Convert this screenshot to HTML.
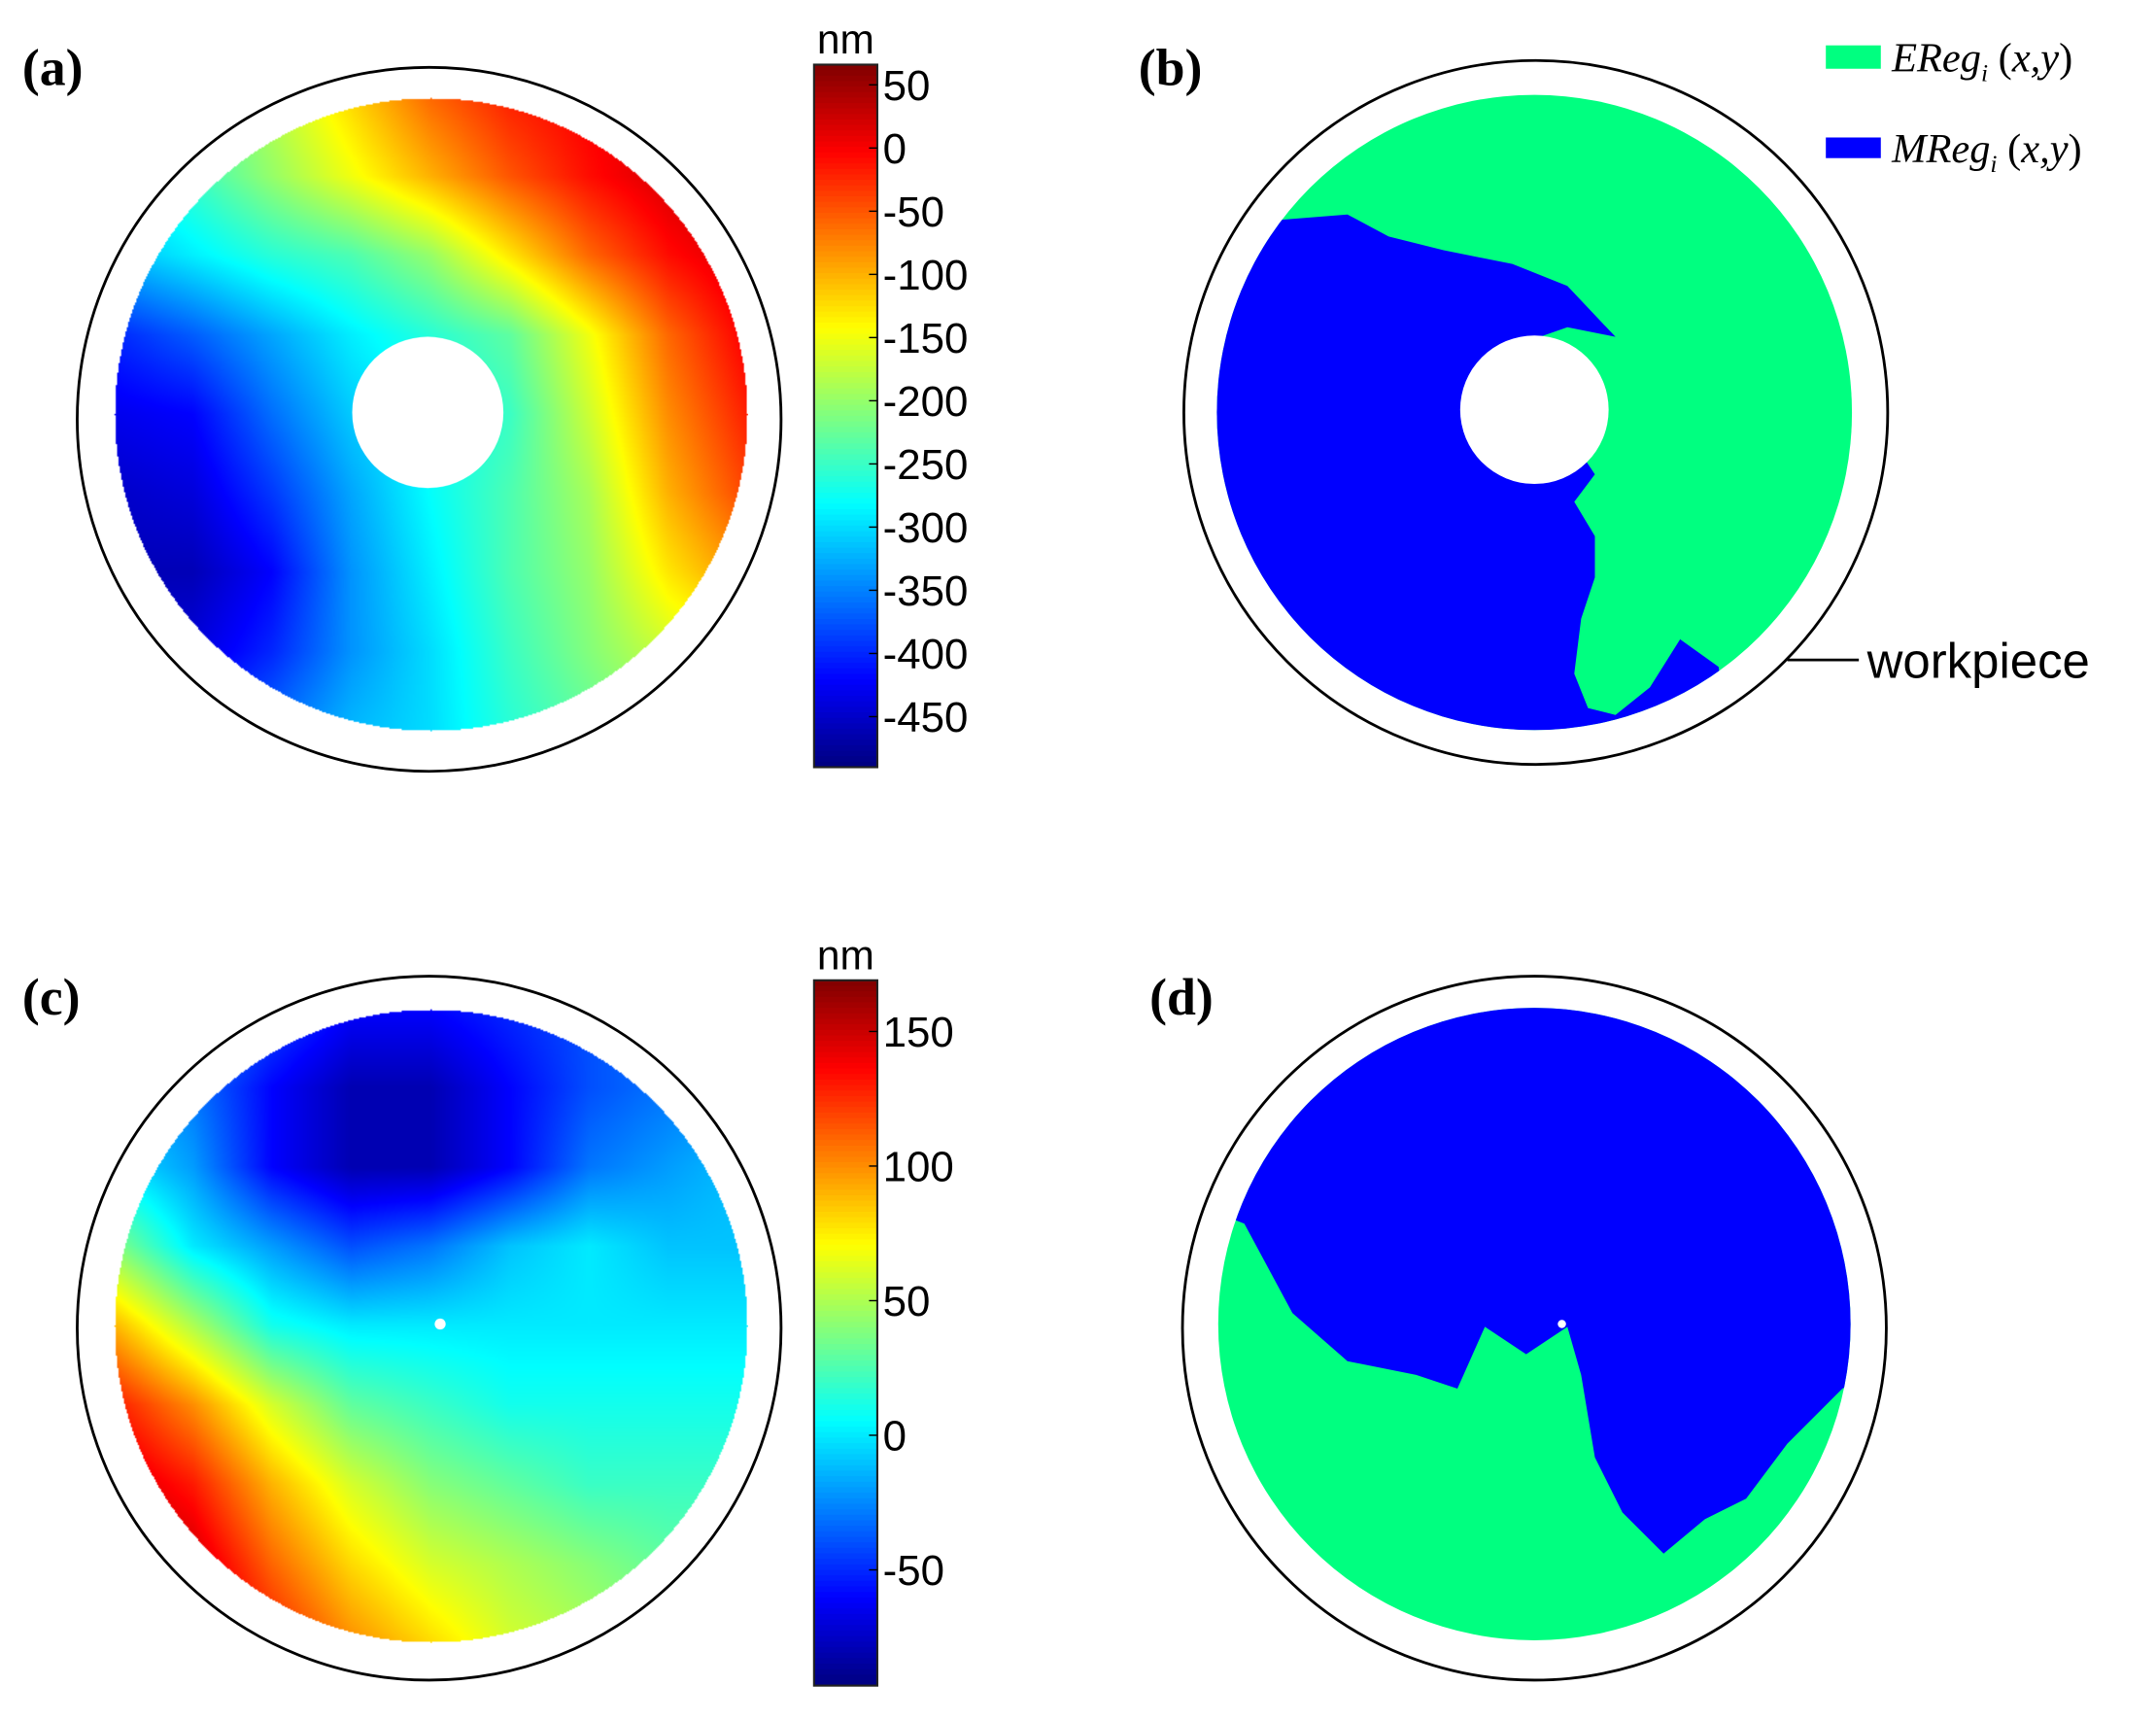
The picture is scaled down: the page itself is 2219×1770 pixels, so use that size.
<!DOCTYPE html>
<html><head><meta charset="utf-8"><style>
html,body{margin:0;padding:0;background:#fff;}
#wrap{position:relative;width:2219px;height:1770px;}
svg{position:absolute;left:0;top:0;}
text{font-family:"Liberation Sans",sans-serif;}
.lab{font-family:"Liberation Serif",serif;font-weight:bold;font-size:38px;}
.leg{font-family:"Liberation Serif",serif;font-style:italic;font-size:30px;}
</style></head><body>
<div id="wrap">
<svg id="s" width="2219" height="1770" viewBox="0 0 1568 1251">
<defs>
<clipPath id="diskB"><circle cx="1116" cy="300" r="231"/></clipPath>
<clipPath id="diskD"><circle cx="1116" cy="963" r="230"/></clipPath>
</defs>
<text x="16" y="62" class="lab">(a)</text>
<text x="828" y="62" class="lab">(b)</text>
<text x="16" y="738" class="lab">(c)</text>
<text x="836" y="738" class="lab">(d)</text>
<circle cx="312" cy="305" r="256" fill="none" stroke="#000" stroke-width="2"/>
<circle cx="1117" cy="300" r="256" fill="none" stroke="#000" stroke-width="2"/>
<circle cx="312" cy="966" r="256" fill="none" stroke="#000" stroke-width="2"/>
<circle cx="1116" cy="966" r="256" fill="none" stroke="#000" stroke-width="2"/>
<foreignObject x="82" y="70" width="462" height="462"><canvas xmlns="http://www.w3.org/1999/xhtml" id="ca" width="462" height="462" style="width:462px;height:462px"></canvas></foreignObject>
<foreignObject x="82" y="733" width="462" height="462"><canvas xmlns="http://www.w3.org/1999/xhtml" id="cc" width="462" height="462" style="width:462px;height:462px"></canvas></foreignObject>
<circle cx="311" cy="300" r="55" fill="#fff"/>
<circle cx="320" cy="963" r="4" fill="#fff"/>
<g clip-path="url(#diskB)">
<rect x="880" y="60" width="480" height="480" fill="#00ff80"/>
<polygon fill="#0000ff" points="930,160 980,156 1010,172 1050,182 1100,192 1140,208 1175,245 1140,238 1100,252 1150,330 1160,345 1145,365 1160,390 1160,420 1150,450 1145,490 1155,515 1175,520 1200,500 1222,465 1250,485 1260,560 850,560 850,160"/>
</g>
<circle cx="1116" cy="298" r="54" fill="#fff"/>
<g clip-path="url(#diskD)">
<rect x="880" y="730" width="480" height="470" fill="#00ff80"/>
<polygon fill="#0000ff" points="880,700 1360,700 1360,1000 1340,1010 1300,1050 1270,1090 1240,1105 1210,1130 1180,1100 1160,1060 1150,1000 1140,965 1110,985 1080,965 1060,1010 1030,1000 980,990 940,955 905,890 880,880"/>
</g>
<circle cx="1136" cy="963" r="3" fill="#fff"/>
<rect x="1328" y="33" width="40" height="17" fill="#00ff80"/>
<text x="1376" y="52" class="leg">EReg<tspan style="font-size:18px" dy="7">i</tspan><tspan dy="-7" style="font-style:normal"> (</tspan>x,y<tspan style="font-style:normal">)</tspan></text>
<rect x="1328" y="100" width="40" height="15" fill="#0000ff"/>
<text x="1376" y="118" class="leg">MReg<tspan style="font-size:18px" dy="7">i</tspan><tspan dy="-7" style="font-style:normal"> (</tspan>x,y<tspan style="font-style:normal">)</tspan></text>
<line x1="1300" y1="480" x2="1352" y2="480" stroke="#000" stroke-width="2"/>
<text x="1358" y="493" font-size="36">workpiece</text>
<g id="cbars"></g>
</svg>
</div>
<script>
const gridA = [
[-250,-230,-180,-120,-60,-20,0,20,30],
[-280,-250,-200,-150,-100,-50,-10,20,40],
[-320,-290,-260,-240,-200,-130,-60,-10,20],
[-400,-370,-330,-290,-260,-230,-150,-60,0],
[-430,-420,-360,-310,-280,-250,-170,-80,-20],
[-450,-440,-390,-330,-280,-240,-190,-100,-40],
[-460,-460,-420,-340,-290,-240,-200,-130,-80],
[-450,-440,-400,-340,-300,-250,-210,-170,-150],
[-420,-400,-360,-320,-300,-260,-230,-200,-180]];
const gridC = [
[-10,-20,-40,-60,-60,-50,-40,-30,-20],
[-10,-30,-60,-80,-80,-60,-40,-30,-20],
[0,-20,-60,-80,-80,-60,-30,-20,-10],
[40,0,-20,-40,-30,-10,0,-10,-10],
[90,50,10,0,0,0,0,0,0],
[130,100,60,30,20,10,10,10,10],
[150,130,90,60,40,30,20,20,20],
[160,150,110,80,60,50,40,30,30],
[160,160,130,100,80,60,50,40,40]];
const rangeA = [-490, 66];
const rangeC = [-93, 169];
const ticksA = [50,0,-50,-100,-150,-200,-250,-300,-350,-400,-450];
const ticksC = [150,100,50,0,-50];

function jet(t){
  t=Math.max(0,Math.min(1,t));
  const f=x=>Math.max(0,Math.min(1,x));
  return [f(1.5-Math.abs(4*t-3)),f(1.5-Math.abs(4*t-2)),f(1.5-Math.abs(4*t-1))].map(v=>Math.round(v*255));
}
function drawHeat(id,grid,range){
  const c=document.getElementById(id),ctx=c.getContext('2d');
  const W=c.width,H=c.height,img=ctx.createImageData(W,H);
  const n=grid.length-1,R=W/2-1;
  for(let y=0;y<H;y++)for(let x=0;x<W;x++){
    const dx=x-W/2,dy=y-H/2; if(dx*dx+dy*dy>R*R)continue;
    const gx=x/(W-1)*n,gy=y/(H-1)*n,i=Math.min(n-1,Math.floor(gx)),j=Math.min(n-1,Math.floor(gy));
    const u=gx-i,v=gy-j;
    const val=grid[j][i]*(1-u)*(1-v)+grid[j][i+1]*u*(1-v)+grid[j+1][i]*(1-u)*v+grid[j+1][i+1]*u*v;
    const col=jet((val-range[0])/(range[1]-range[0]));
    const k=(y*W+x)*4; img.data[k]=col[0];img.data[k+1]=col[1];img.data[k+2]=col[2];img.data[k+3]=255;
  }
  ctx.putImageData(img,0,0);
}
drawHeat('ca',gridA,rangeA);
drawHeat('cc',gridC,rangeC);

const NS='http://www.w3.org/2000/svg';
function colorbar(x,y0,y1,range,ticks,name,fs){
  const g=document.getElementById('cbars');
  const steps=128,h=(y1-y0)/steps;
  for(let i=0;i<steps;i++){
    const r=document.createElementNS(NS,'rect');
    
    
    const col=jet(1-(i+0.5)/steps);
    r.setAttribute('x',x);r.setAttribute('y',y0+i*h);r.setAttribute('width',46);r.setAttribute('height',h+0.6);
    r.setAttribute('fill','rgb('+col.join(',')+')');g.appendChild(r);
  }
  const fr=document.createElementNS(NS,'rect');
  
  
  fr.setAttribute('x',x);fr.setAttribute('y',y0);fr.setAttribute('width',46);fr.setAttribute('height',y1-y0);
  fr.setAttribute('fill','none');fr.setAttribute('stroke','#222');fr.setAttribute('stroke-width','1.5');g.appendChild(fr);
  const sc=v=>y1-(v-range[0])/(range[1]-range[0])*(y1-y0);
  ticks.forEach(v=>{
    const ty=sc(v);
    const l=document.createElementNS(NS,'line');
    
    
    l.setAttribute('x1',x+40);l.setAttribute('x2',x+46);l.setAttribute('y1',ty);l.setAttribute('y2',ty);
    l.setAttribute('stroke','#000');g.appendChild(l);
    const t=document.createElementNS(NS,'text');
    
    
    t.setAttribute('x',x+50);t.setAttribute('y',ty+11);t.setAttribute('font-size',fs);
    t.textContent=String(v);g.appendChild(t);
  });
  const u=document.createElementNS(NS,'text');
  
  
  u.setAttribute('x',x+23);u.setAttribute('y',y0-8);u.setAttribute('font-size',30);u.setAttribute('text-anchor','middle');
  u.textContent='nm';g.appendChild(u);
}
colorbar(592,47,558,rangeA,ticksA,'colorbar-a',31);
colorbar(592,713,1226,rangeC,ticksC,'colorbar-c',31);
</script>
</body></html>
